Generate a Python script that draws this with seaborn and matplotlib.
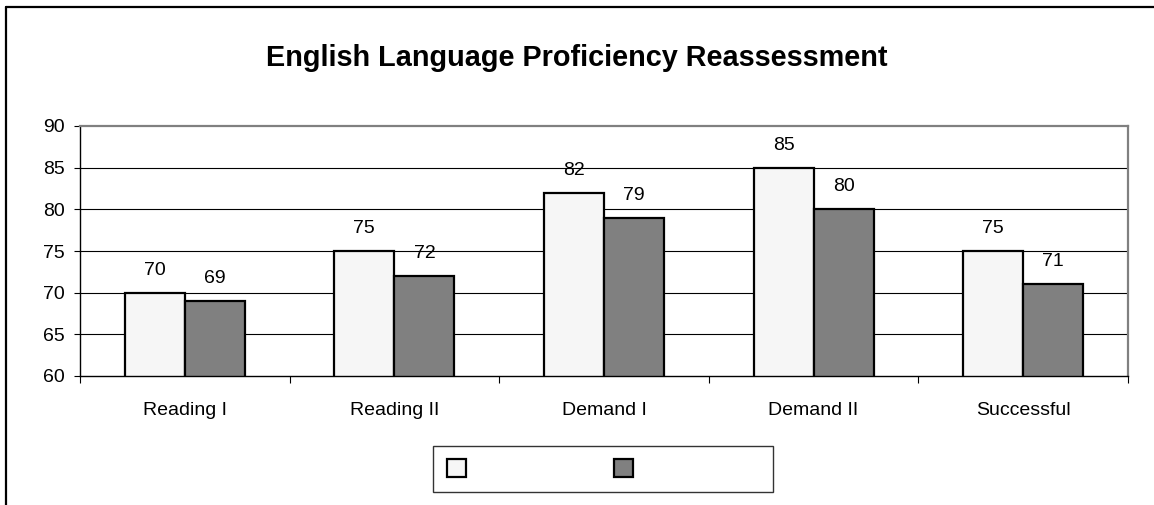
import pandas as pd
import seaborn as sns
from matplotlib import pyplot as plt
from matplotlib.patches import Patch
from matplotlib.lines import Line2D

categories = ['Reading I', 'Reading II', 'Demand I', 'Demand II', 'Successful']
series_a = [70, 75, 82, 85, 75]
series_b = [69, 72, 79, 80, 71]
series_names = ['A', 'B']
colors = ['#f6f6f6', '#808080']

df = pd.DataFrame({
    'category': categories * 2,
    'value': series_a + series_b,
    'series': [series_names[0]] * len(categories) + [series_names[1]] * len(categories),
})

sns.set_style('white')
plt.rcParams['font.family'] = ['Liberation Sans', 'DejaVu Sans']
plt.rcParams['text.color'] = 'black'
plt.rcParams['xtick.color'] = 'black'
plt.rcParams['ytick.color'] = 'black'

fs = 14

fig = plt.figure(figsize=(11.54, 5.05), dpi=100)
ax = fig.add_axes([80 / 1154, 129 / 505, 1048 / 1154, 250 / 505])

sns.barplot(data=df, x='category', y='value', hue='series', palette=colors,
            width=0.573, edgecolor='black', linewidth=1.6, ax=ax, legend=False)

ax.set_ylim(60, 90)
ax.set_xlim(-0.5, 4.5)
ax.set_yticks(range(60, 91, 5))
ax.tick_params(axis='y', labelsize=fs, length=4, width=0.8, pad=7, direction='out', left=True)
ax.tick_params(axis='x', which='major', length=0, labelsize=fs, pad=19)
ax.set_xticks([i - 0.5 for i in range(len(categories) + 1)], minor=True)
ax.tick_params(axis='x', which='minor', length=5, width=0.8, direction='out', bottom=True)
ax.set_xlabel('')
ax.set_ylabel('')

for y in range(65, 90, 5):
    ax.axhline(y, color='black', linewidth=0.8, zorder=0)

for side in ['left', 'bottom']:
    ax.spines[side].set_color('black')
    ax.spines[side].set_linewidth(1.0)
for side in ['top', 'right']:
    ax.spines[side].set_color('#808080')
    ax.spines[side].set_linewidth(1.6)
    ax.spines[side].set_visible(True)

for cont in ax.containers:
    ax.bar_label(cont, fmt='%d', padding=10, fontsize=fs)

fig.text(577 / 1154, 1 - 58 / 505, 'English Language Proficiency Reassessment',
         fontsize=20.8, fontweight='bold', ha='center', va='center')

handles = [Patch(facecolor=c, edgecolor='black', linewidth=1.6) for c in colors]
blank = ' ' * 22
leg = fig.legend(handles, [blank, blank], loc='center',
                 bbox_to_anchor=(603 / 1154, 1 - 469 / 505),
                 ncol=2, frameon=True, fancybox=False, edgecolor='black',
                 handlelength=1.0, handleheight=1.0, columnspacing=1.1,
                 handletextpad=0.4, borderpad=0.7, fontsize=fs)
leg.get_frame().set_linewidth(1.0)

fig.add_artist(Line2D([6 / 1154, 1], [1 - 7 / 505, 1 - 7 / 505], color='black', linewidth=1.6,
                      transform=fig.transFigure))
fig.add_artist(Line2D([6 / 1154, 6 / 1154], [0, 1 - 7 / 505], color='black', linewidth=1.6,
                      transform=fig.transFigure))

fig.savefig('out.png', dpi=100)
